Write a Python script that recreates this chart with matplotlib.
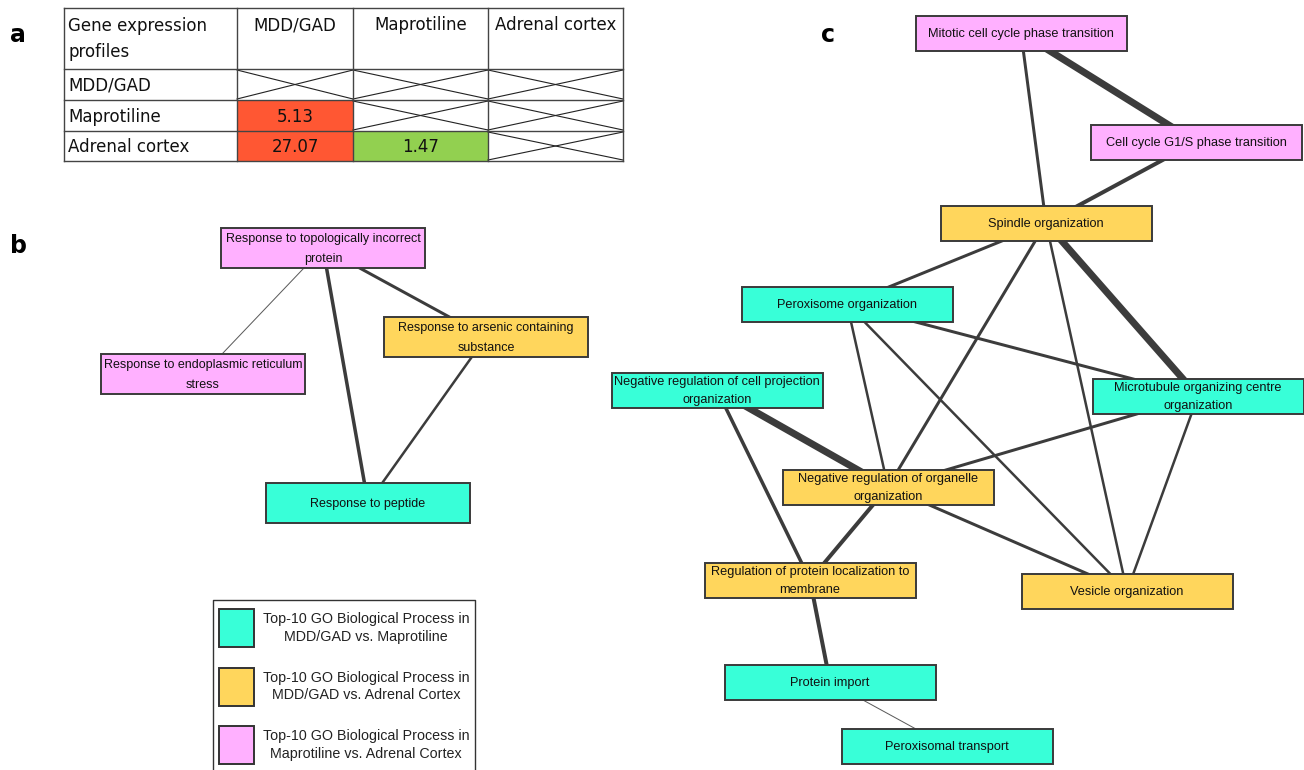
import matplotlib
matplotlib.use("Agg")
import matplotlib.pyplot as plt
from matplotlib.patches import Rectangle

# ---- panel a: overlap table ----
profiles = ["MDD/GAD", "Maprotiline", "Adrenal cortex"]
overlap = [[None, None, None],
           [5.13, None, None],
           [27.07, 1.47, None]]
overlap_colors = [[None, None, None],
                  ["#FF5733", None, None],
                  ["#FF5733", "#92D050", None]]

# ---- panels b and c: GO networks ----
groups = {
    "mapro": "#38FFD8",    # MDD/GAD vs. Maprotiline
    "adrenal": "#FFD65C",  # MDD/GAD vs. Adrenal Cortex
    "both": "#FFB0FF",     # Maprotiline vs. Adrenal Cortex
}
legend_labels = ["Top-10 GO Biological Process in\nMDD/GAD vs. Maprotiline",
                 "Top-10 GO Biological Process in\nMDD/GAD vs. Adrenal Cortex",
                 "Top-10 GO Biological Process in\nMaprotiline vs. Adrenal Cortex"]

b_nodes = ["Response to topologically incorrect\nprotein",
           "Response to endoplasmic reticulum\nstress",
           "Response to arsenic containing\nsubstance",
           "Response to peptide"]
b_groups = ["both", "both", "adrenal", "mapro"]
b_edges = [(0, 1, 1.0), (0, 3, 3.5), (0, 2, 3.0), (2, 3, 2.5)]

c_nodes = ["Mitotic cell cycle phase transition",
           "Cell cycle G1/S phase transition",
           "Spindle organization",
           "Peroxisome organization",
           "Negative regulation of cell projection\norganization",
           "Microtubule organizing centre\norganization",
           "Negative regulation of organelle\norganization",
           "Regulation of protein localization to\nmembrane",
           "Vesicle organization",
           "Protein import",
           "Peroxisomal transport"]
c_groups = ["both", "both", "adrenal", "mapro", "mapro", "mapro",
            "adrenal", "adrenal", "adrenal", "mapro", "mapro"]
c_edges = [(0, 2, 3.0), (0, 1, 7.0), (1, 2, 4.0), (2, 3, 3.0), (2, 6, 3.0),
           (2, 8, 2.5), (2, 5, 7.0), (3, 5, 3.0), (3, 6, 2.5), (3, 8, 2.5),
           (4, 6, 7.0), (4, 7, 3.5), (5, 6, 3.0), (5, 8, 2.5), (6, 7, 4.0),
           (6, 8, 3.0), (7, 9, 4.0), (9, 10, 1.0)]

# layout (pixel positions of box centres)
b_pos = [(323, 248), (203, 374), (486, 337), (368, 503)]
c_pos = [(1021, 33), (1196, 142), (1046, 223), (847, 304), (717, 390),
         (1198, 396), (888, 487), (810, 580), (1127, 591), (830, 682),
         (947, 746)]
BW, BH = 211, 35
BW_B, BH_B = 204, 40

fig = plt.figure(figsize=(13.04, 7.7), dpi=100)
ax = fig.add_axes([0, 0, 1, 1])
ax.set_xlim(0, 1304)
ax.set_ylim(770, 0)
ax.axis("off")

PX = 72 / 100  # px -> pt

# panel labels
for lab, x, y in [("a", 18, 35), ("b", 18, 246), ("c", 828, 35)]:
    ax.text(x, y, lab, fontsize=17, fontweight="bold", ha="center",
            va="center", family="DejaVu Sans")

# ---- table ----
xs = [64, 237, 353, 488, 623]
ys = [8, 69, 100, 131, 161]
tfont = dict(fontsize=12, family="DejaVu Sans", color="#111111")
for r in range(3):
    for c in range(3):
        x0, x1 = xs[c + 1], xs[c + 2]
        y0, y1 = ys[r + 1], ys[r + 2]
        if overlap[r][c] is not None:
            ax.add_patch(Rectangle((x0, y0), x1 - x0, y1 - y0,
                                   facecolor=overlap_colors[r][c],
                                   edgecolor="none", zorder=1))
            ax.text((x0 + x1) / 2, (y0 + y1) / 2 + 1, f"{overlap[r][c]:.2f}",
                    ha="center", va="center", zorder=3, **tfont)
        elif c >= r:
            ax.plot([x0, x1], [y0 + 1, y1 - 1], color="#222222", lw=0.8,
                    zorder=2)
            ax.plot([x0, x1], [y1 - 1, y0 + 1], color="#222222", lw=0.8,
                    zorder=2)
for x in xs:
    ax.plot([x, x], [ys[0], ys[-1]], color="#444444", lw=1.0, zorder=2)
for y in ys:
    ax.plot([xs[0], xs[-1]], [y, y], color="#444444", lw=1.0, zorder=2)
ax.text(68, 39, "Gene expression\nprofiles", ha="left", va="center",
        linespacing=1.6, zorder=3, **tfont)
for c, name in enumerate(profiles):
    ax.text((xs[c + 1] + xs[c + 2]) / 2, 25, name, ha="center",
            va="center", zorder=3, **tfont)
    ax.text(68, (ys[c + 1] + ys[c + 2]) / 2 + 1, name, ha="left",
            va="center", zorder=3, **tfont)


def draw_network(nodes, grp, edges, pos, bw, bh, fs, ls):
    for a, b, w in edges:
        thin = w <= 1.0
        ax.plot([pos[a][0], pos[b][0]], [pos[a][1], pos[b][1]],
                color="#5a5a5a" if thin else "#3c3c3c",
                lw=w * PX, solid_capstyle="butt", zorder=1)
    for name, g, (cx, cy) in zip(nodes, grp, pos):
        ax.add_patch(Rectangle((cx - bw / 2, cy - bh / 2), bw, bh,
                               facecolor=groups[g], edgecolor="#3a3a3a",
                               lw=1.4, zorder=2))
        ax.text(cx, cy + 1, name, ha="center", va="center", fontsize=fs,
                family="Liberation Sans", linespacing=ls, color="#111111",
                zorder=3)


draw_network(b_nodes, b_groups, b_edges, b_pos, BW_B, BH_B, 9.0, 1.8)
draw_network(c_nodes, c_groups, c_edges, c_pos, BW, BH, 9.2, 1.6)

# ---- legend ----
ax.plot([213, 213, 475, 475], [775, 600, 600, 775], color="#333333", lw=1.0)
for i, (g, lab) in enumerate(zip(["mapro", "adrenal", "both"], legend_labels)):
    y = 628 + i * 58.5
    ax.add_patch(Rectangle((219, y - 19), 35, 38, facecolor=groups[g],
                           edgecolor="#333333", lw=1.4, zorder=2))
    ax.text(366, y, lab, ha="center", va="center", fontsize=10.3,
            family="Liberation Sans", linespacing=1.35, color="#222222")

fig.savefig("out.png", dpi=100)
